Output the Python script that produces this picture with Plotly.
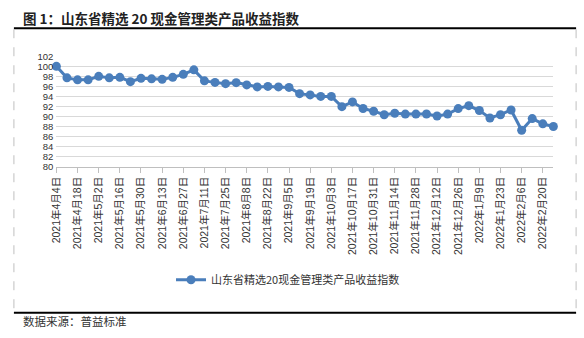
import datetime as dt
import plotly.graph_objects as go

# Weekly index values, 2021-04-04 .. 2022-02-27
start = dt.date(2021, 4, 4)
dates = [start + dt.timedelta(weeks=i) for i in range(48)]
values = [
    100.0, 97.7, 97.3, 97.3, 98.0, 97.7, 97.8, 96.95, 97.6, 97.5,
    97.4, 97.8, 98.4, 99.3, 97.1, 96.8, 96.55, 96.75, 96.3, 95.9,
    96.0, 95.9, 95.8, 94.55, 94.3, 94.0, 94.0, 91.96, 92.9, 91.6,
    91.05, 90.35, 90.65, 90.47, 90.47, 90.5, 90.1, 90.47, 91.57, 92.15,
    91.18, 89.7, 90.35, 91.3, 87.24, 89.57, 88.53, 88.0,
]
labels = [f"{d.year}年{d.month}月{d.day}日" for d in dates]
tick_idx = list(range(0, len(dates), 2))
tick_text = [labels[i] for i in tick_idx]
y_ticks = list(range(80, 103, 2))

series_name = "山东省精选20现金管理类产品收益指数"
title_text = "图 1：山东省精选 20 现金管理类产品收益指数"
source_text = "数据来源：普益标准"

W, H = 584, 338
FONT = "Liberation Sans, Arial, Noto Sans CJK SC, sans-serif"
CJK = "Noto Sans CJK SC, sans-serif"
BLUE = "#4a7ebb"


def px_x(p):
    return p / W


def px_y(p):
    return 1 - p / H


fig = go.Figure()
fig.add_trace(go.Scatter(
    x=list(range(len(dates))),
    y=values,
    mode="lines+markers",
    name=series_name,
    line=dict(color=BLUE, width=3),
    marker=dict(color=BLUE, size=9),
    cliponaxis=False,
))

fig.update_layout(
    width=W,
    height=H,
    margin=dict(l=0, r=0, t=0, b=0),
    paper_bgcolor="white",
    plot_bgcolor="white",
    font=dict(family=FONT, size=11, color="#333333"),
    showlegend=True,
    legend=dict(
        orientation="h",
        x=px_x(166), y=px_y(283),
        xanchor="left", yanchor="middle",
        font=dict(family=CJK, size=11, color="#333333"),
        bgcolor="rgba(0,0,0,0)",
        itemwidth=30,
    ),
    xaxis=dict(
        domain=[px_x(50), px_x(553)],
        range=[0, len(dates) - 1],
        tickmode="array",
        tickvals=tick_idx,
        ticktext=tick_text,
        tickangle=-90,
        ticks="outside",
        ticklen=5,
        tickcolor="#bfbfbf",
        showline=True,
        linecolor="#bfbfbf",
        linewidth=1,
        showgrid=False,
        zeroline=False,
        tickfont=dict(family=FONT, size=10.5, color="#333333"),
    ),
    yaxis=dict(
        domain=[px_y(166), px_y(52)],
        range=[80, 102],
        tickmode="array",
        tickvals=y_ticks,
        showgrid=True,
        gridcolor="#d9d9d9",
        gridwidth=1,
        zeroline=False,
        showline=False,
        ticks="",
        ticklabelstandoff=2,
        tickfont=dict(family=FONT, size=9.5, color="#333333"),
    ),
    shapes=[
        # title underline
        dict(type="line", xref="paper", yref="paper",
             x0=px_x(7), x1=px_x(576), y0=px_y(23), y1=px_y(23),
             line=dict(color="black", width=2)),
        # bottom rule above source note
        dict(type="line", xref="paper", yref="paper",
             x0=px_x(7), x1=px_x(576), y0=px_y(317), y1=px_y(317),
             line=dict(color="black", width=2)),
        # dashed frame sides
        dict(type="line", xref="paper", yref="paper",
             x0=px_x(7), x1=px_x(7), y0=px_y(24), y1=px_y(316),
             line=dict(color="#bfbfbf", width=1, dash="dash")),
        dict(type="line", xref="paper", yref="paper",
             x0=px_x(576), x1=px_x(576), y0=px_y(24), y1=px_y(316),
             line=dict(color="#bfbfbf", width=1, dash="dash")),
    ],
    annotations=[
        dict(text=f"<b>{title_text}</b>", xref="paper", yref="paper",
             x=px_x(14), y=px_y(12), xanchor="left", yanchor="middle",
             showarrow=False, font=dict(family=CJK, size=13.5, color="#222222")),
        dict(text=source_text, xref="paper", yref="paper",
             x=px_x(14), y=px_y(326), xanchor="left", yanchor="middle",
             showarrow=False, font=dict(family=CJK, size=11.5, color="#333333")),
    ],
)

fig.write_html("out.html")
